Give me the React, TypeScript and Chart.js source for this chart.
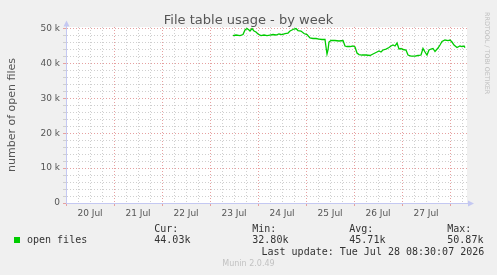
import React, { useEffect, useRef } from 'react';
import { Chart, registerables } from 'chart.js';

Chart.register(...registerables);

// ---- data ----
const dayLabels = ['20 Jul', '21 Jul', '22 Jul', '23 Jul', '24 Jul', '25 Jul', '26 Jul', '27 Jul'];
const yTickLabels = ['0', '10 k', '20 k', '30 k', '40 k', '50 k'];
const xGridStepHours = 6;
const yGridStep = 2000;

// hours since 20 Jul 00:00
const hours = [
  83.5, 85, 87, 88.5, 89.5, 90.5, 91.5, 92, 93, 94, 95, 96, 97.5, 99, 100.5, 102, 103.5, 105, 106.5, 108,
  109.5, 111, 112, 113, 114, 115, 116, 117.5, 119, 120.5, 122, 123.5, 125, 126.5, 128, 129.5, 130, 130.5,
  131, 131.5, 132.5, 134.5, 136.5, 138.5, 139.5, 140.5, 142, 143.5, 144.5, 145.5, 146.5, 148, 150, 152,
  153.5, 155, 156.5, 157.5, 158.5, 160, 161.5, 162.5, 163.5, 164.5, 165.5, 166.5, 167.5, 168.5, 170, 171,
  172.5, 174.5, 176, 177.5, 178.5, 179.5, 180.5, 181.5, 182.5, 183.5, 184.5, 186, 187, 188, 189.5, 191,
  192, 193, 194, 195.5, 197, 198, 199, 199.5,
];
const openFiles = [
  48050, 48200, 48050, 48340, 49630, 50060, 49630, 49350, 50060, 49350, 49060, 48490, 48050, 48200, 48050, 48200, 48340, 48200, 48490, 48340,
  48630, 48770, 49350, 49630, 49920, 50060, 49490, 49350, 48630, 48340, 47340, 47200, 47200, 47050, 46910, 46910, 44760, 42750,
  43900, 46190, 46620, 46620, 46480, 46620, 45040, 44900, 44900, 45040, 44760, 43040, 42600, 42460, 42460, 42320,
  42750, 43180, 43610, 43320, 43900, 44180, 44610, 45040, 45330, 45040, 45900, 44180, 44330, 44040, 43900, 42460,
  42170, 42170, 42320, 42460, 44330, 43320, 42460, 43900, 44180, 44330, 43470, 44470, 45330, 46330, 46760, 46620,
  46760, 46190, 45330, 44610, 45040, 44900, 45040, 44610,
];

const seriesName = 'open files';
const statNames = ['Cur:', 'Min:', 'Avg:', 'Max:'];
const statValues = ['44.03k', '32.80k', '45.71k', '50.87k'];
const titleText = 'File table usage - by week';
const yAxisTitle = 'number of open files';
const lastUpdate = 'Last update: Tue Jul 28 08:30:07 2026';
const footerText = 'Munin 2.0.49';
const watermark = 'RRDTOOL / TOBI OETIKER';

// ---- styles ----
const W = 497;
const H = 275;
const BG = '#f0f0f0';
const LINE = '#00cc00';
const MAJOR = '#e6a0a0';
const MINOR = '#cfcfcf';
const AXIS = '#c4c8f2';
const SANS = '"DejaVu Sans", sans-serif';
const MONO = '"DejaVu Sans Mono", monospace';
const statX = [154.3, 252.3, 349.3, 447.3];

const isMajorX = (v: number) => Math.abs(v % 24) < 1e-6;
const isMajorY = (v: number) => Math.abs(v % 10000) < 1e-6;

const overlay = {
  id: 'overlay',
  beforeDraw(chart: any) {
    const { ctx, chartArea: a } = chart;
    ctx.save();
    ctx.fillStyle = BG;
    ctx.fillRect(0, 0, chart.width, chart.height);
    ctx.fillStyle = '#ffffff';
    ctx.fillRect(a.left, a.top, a.right - a.left, a.bottom - a.top);
    ctx.restore();
  },
  afterDraw(chart: any) {
    const { ctx, chartArea: a } = chart;
    ctx.save();
    // axis extensions + arrows
    ctx.strokeStyle = AXIS;
    ctx.fillStyle = AXIS;
    ctx.lineWidth = 1;
    ctx.beginPath();
    ctx.moveTo(66.5, a.top + 0.5);
    ctx.lineTo(66.5, 25.5);
    ctx.moveTo(a.right, 203.5);
    ctx.lineTo(469, 203.5);
    ctx.stroke();
    ctx.beginPath();
    ctx.moveTo(66.5, 20.5);
    ctx.lineTo(69.5, 26.5);
    ctx.lineTo(63.5, 26.5);
    ctx.closePath();
    ctx.fill();
    ctx.beginPath();
    ctx.moveTo(474, 203.5);
    ctx.lineTo(468, 200.5);
    ctx.lineTo(468, 206.5);
    ctx.closePath();
    ctx.fill();

    // title
    ctx.fillStyle = '#555555';
    ctx.font = `13px ${SANS}`;
    ctx.textAlign = 'center';
    ctx.textBaseline = 'alphabetic';
    ctx.fillText(titleText, 248.5, 24);

    // y axis title
    ctx.save();
    ctx.translate(15, 115);
    ctx.rotate(-Math.PI / 2);
    ctx.font = `11px ${SANS}`;
    ctx.fillText(yAxisTitle, 0, 0);
    ctx.restore();

    // watermark
    ctx.save();
    ctx.translate(485, 12);
    ctx.rotate(Math.PI / 2);
    ctx.fillStyle = '#bdbdbd';
    ctx.font = `6.4px ${SANS}`;
    ctx.textAlign = 'left';
    ctx.fillText(watermark, 0, 0);
    ctx.restore();

    // legend
    ctx.fillStyle = LINE;
    ctx.fillRect(14, 237, 6, 6);
    ctx.fillStyle = '#333333';
    ctx.font = `10px ${MONO}`;
    ctx.textAlign = 'left';
    ctx.fillText(seriesName, 27, 243);
    statNames.forEach((n, i) => {
      ctx.fillText(n, statX[i], 231.5);
      ctx.fillText(statValues[i], statX[i], 243);
    });
    ctx.fillText(lastUpdate, 261.5, 254.5);

    ctx.fillStyle = '#c2c2c2';
    ctx.font = `8px ${SANS}`;
    ctx.fillText(footerText, 222.3, 266);
    ctx.restore();
  },
};

function stepTicks(min: number, max: number, step: number) {
  const out: { value: number }[] = [];
  for (let v = min; v <= max + 1e-9; v += step) out.push({ value: v });
  return out;
}

export default function App() {
  const ref = useRef<HTMLCanvasElement>(null);
  useEffect(() => {
    if (!ref.current) return;
    const chart = new Chart(ref.current, {
      type: 'line',
      data: {
        datasets: [
          {
            label: seriesName,
            data: hours.map((h, i) => ({ x: h, y: openFiles[i] })),
            borderColor: LINE,
            backgroundColor: LINE,
            borderWidth: 1.3,
            pointRadius: 0,
            tension: 0,
          },
        ],
      },
      options: {
        animation: false,
        responsive: false,
        devicePixelRatio: 1,
        layout: { padding: { left: 0, top: 27, right: 30, bottom: 0 } },
        plugins: { legend: { display: false }, tooltip: { enabled: false }, title: { display: false } },
        scales: {
          x: {
            type: 'linear',
            min: 0,
            max: 200.5,
            afterBuildTicks: (s: any) => {
              s.ticks = stepTicks(0, 200.5, xGridStepHours);
            },
            afterFit: (s: any) => {
              s.height = 72;
            },
            ticks: {
              autoSkip: false,
              maxRotation: 0,
              color: '#555555',
              padding: 2,
              font: { family: SANS, size: 9 },
              callback: (v: any) => (Math.abs(v % 24 - 12) < 1e-6 ? dayLabels[Math.round((v - 12) / 24)] : ''),
            },
            grid: {
              color: (c: any) => (c.tick && isMajorX(c.tick.value) ? MAJOR : MINOR),
              tickColor: (c: any) => (c.tick && isMajorX(c.tick.value) ? MAJOR : 'rgba(0,0,0,0)'),
              tickLength: 3,
              lineWidth: 1,
            },
            border: { color: AXIS, dash: [1, 2] },
          },
          y: {
            type: 'linear',
            min: 0,
            max: 50500,
            afterBuildTicks: (s: any) => {
              s.ticks = stepTicks(0, 50000, yGridStep);
            },
            afterFit: (s: any) => {
              s.width = 66;
            },
            ticks: {
              autoSkip: false,
              color: '#555555',
              padding: 3,
              font: { family: SANS, size: 9 },
              callback: (v: any) => (isMajorY(v) ? yTickLabels[Math.round(v / 10000)] : ''),
            },
            grid: {
              color: (c: any) => (c.tick && isMajorY(c.tick.value) ? MAJOR : MINOR),
              tickColor: (c: any) => (c.tick && isMajorY(c.tick.value) ? MAJOR : MINOR),
              tickLength: 3,
              lineWidth: 1,
            },
            border: { color: AXIS, dash: [1, 2] },
          },
        },
      },
      plugins: [overlay],
    });
    return () => chart.destroy();
  }, []);
  return (
    <div style={{ position: 'absolute', left: 0, top: 0, width: W, height: H, background: BG }}>
      <canvas ref={ref} width={W} height={H} style={{ display: 'block' }} />
    </div>
  );
}
